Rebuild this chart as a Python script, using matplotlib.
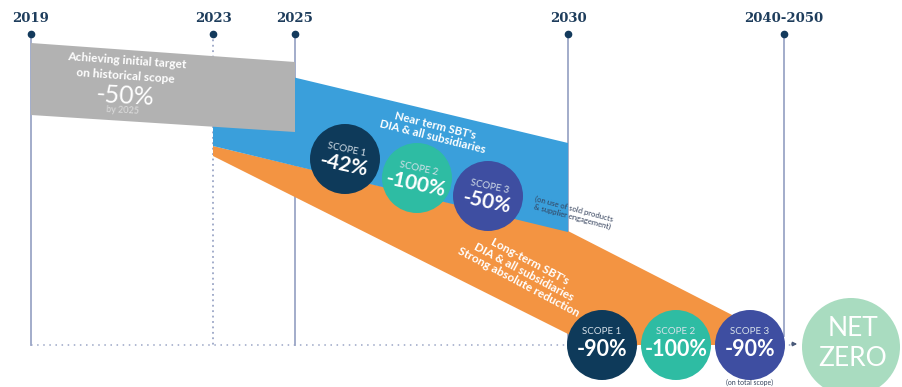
import matplotlib
matplotlib.use("Agg")
import matplotlib.pyplot as plt
from matplotlib.patches import Polygon, Circle

# --- data ---
years = ["2019", "2023", "2025", "2030", "2040-2050"]
near_scopes = ["SCOPE 1", "SCOPE 2", "SCOPE 3"]
near_values = ["-42%", "-100%", "-50%"]
long_scopes = ["SCOPE 1", "SCOPE 2", "SCOPE 3"]
long_values = ["-90%", "-100%", "-90%"]
initial_target = "-50%"

# --- layout (pixel space, y down) ---
year_x = [31, 213, 295, 568, 784]
year_line_end = [345, 345, 345, 345, 336]
year_line_style = ["-", (0, (1, 2)), "-", "-", "-"]
near_xy = [(345, 159), (417, 178), (488, 196)]
long_xy = [(602, 345), (676, 345), (750, 345)]
scope_colors = ["#0e3a5a", "#2ebca3", "#3e4ea1"]
R = 35

navy = "#1e3d5c"
line_c = "#9ba6c6"
font = "Lato"

fig = plt.figure(figsize=(9.02, 3.87), dpi=100)
ax = fig.add_axes([0, 0, 1, 1])
ax.set_xlim(0, 902)
ax.set_ylim(387, 0)
ax.axis("off")

# timeline
ax.plot([31, 792], [345, 345], color=line_c, lw=1.1, ls=(0, (1, 3)), zorder=1)
for y, x, ye, ls in zip(years, year_x, year_line_end, year_line_style):
    ax.plot([x, x], [34, ye], color=line_c, lw=1.3, ls=ls, zorder=1)
    ax.plot(x, 34, "o", color="#133a5c", ms=4.5, zorder=3)
    ax.text(x, 18, y, ha="center", va="center", fontsize=9.5, fontweight="bold",
            family="DejaVu Serif", color=navy)

# bands
orange = Polygon([(213, 146), (568, 231), (738, 318), (745, 345), (590, 345), (213, 156)],
                 closed=True, fc="#f39442", ec="none", zorder=2)
blue = Polygon([(213, 58), (568, 143), (568, 232), (213, 146)],
               closed=True, fc="#3a9fdb", ec="none", zorder=3)
gray = Polygon([(31, 43), (295, 62), (295, 132), (31, 115)],
               closed=True, fc="#b2b2b2", ec="none", zorder=4)
for p in (orange, blue, gray):
    ax.add_patch(p)

# gray band text
ax.text(127, 61, "Achieving initial target", ha="center", va="center", rotation=-4,
        color="white", fontsize=8.6, fontweight="bold", family=font, zorder=5)
ax.text(126, 76, "on historical scope", ha="center", va="center", rotation=-4,
        color="white", fontsize=8.6, fontweight="bold", family=font, zorder=5)
ax.text(125, 96, initial_target, ha="center", va="center", rotation=-3,
        color="white", fontsize=18, family=font, zorder=5)
ax.text(123, 110, "by 2025", ha="center", va="center", rotation=-3,
        color="#dedede", fontsize=6.5, family=font, zorder=5)

# band labels
ax.text(434, 131, "Near term SBT's\nDIA & all subsidiaries", ha="center", va="center",
        rotation=-14, rotation_mode="anchor", color="white", fontsize=8.3, fontweight="bold",
        family=font, linespacing=1.1, zorder=5)
ax.text(524, 272, "Long-term SBT's\nDIA & all subsidiaries\nStrong absolute reduction",
        ha="center", va="center", rotation=-28, rotation_mode="anchor", color="white",
        fontsize=8.5, fontweight="bold", family=font, linespacing=1.1, zorder=5)
ax.text(573, 213, "(on use of sold products\n& supplier engagement)", ha="center", va="center",
        rotation=-15, rotation_mode="anchor", color="#33415c", fontsize=5.5,
        family=font, linespacing=1.1, zorder=5)

# near term circles
for (cx, cy), s, v, c in zip(near_xy, near_scopes, near_values, scope_colors):
    ax.add_patch(Circle((cx, cy), R, fc=c, ec="none", zorder=6))
    ax.text(cx + 2, cy - 9, s, ha="center", va="center", rotation=-12, rotation_mode="anchor",
            color="#d8e2ea", fontsize=7, family=font, zorder=7)
    ax.text(cx - 1, cy + 6, v, ha="center", va="center", rotation=-12, rotation_mode="anchor",
            color="white", fontsize=15, fontweight="bold", family=font, zorder=7)

# long term circles
for (cx, cy), s, v, c in zip(long_xy, long_scopes, long_values, scope_colors):
    ax.add_patch(Circle((cx, cy), R, fc=c, ec="none", zorder=6))
    ax.text(cx, cy - 13, s, ha="center", va="center", color="#d8e2ea", fontsize=7,
            family=font, zorder=7)
    ax.text(cx, cy + 5, v, ha="center", va="center", color="white", fontsize=15.5,
            fontweight="bold", family=font, zorder=7)
ax.text(750, 382, "(on total scope)", ha="center", va="center", color="#33415c",
        fontsize=5, family=font, zorder=7)

# arrow to net zero
ax.annotate("", xy=(800, 344), xytext=(789, 344),
            arrowprops=dict(arrowstyle="-|>", color="#4a5a7a", lw=1, mutation_scale=6), zorder=7)

# net zero
ax.add_patch(Circle((851, 347), 49, fc="#a9dcc0", ec="none", zorder=6))
ax.text(853, 329, "NET", ha="center", va="center", color="white", fontsize=19,
        family=font, zorder=7)
ax.text(853, 358, "ZERO", ha="center", va="center", color="white", fontsize=19,
        family=font, zorder=7)

fig.savefig("out.png", dpi=100)
